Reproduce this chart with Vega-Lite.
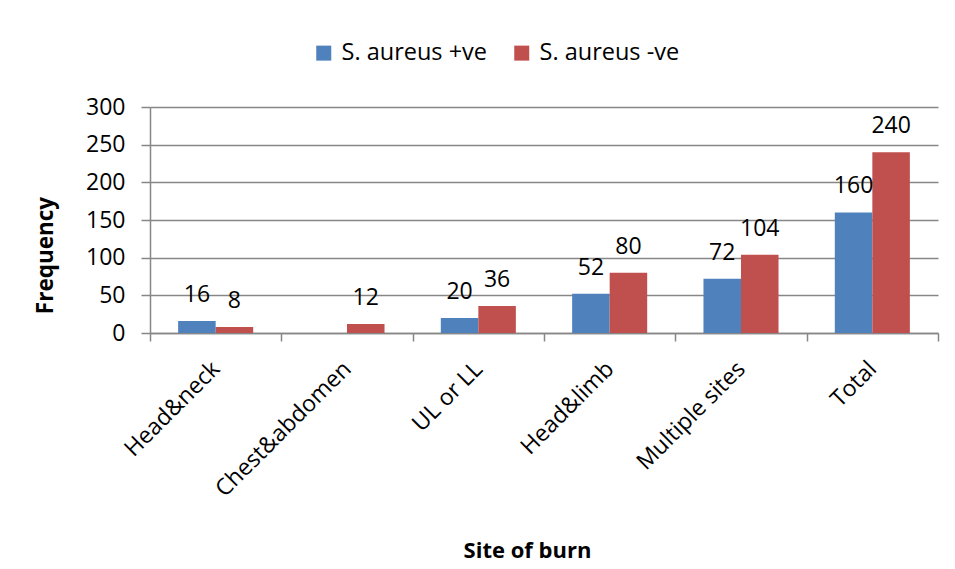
{
  "$schema": "https://vega.github.io/schema/vega-lite/v6.json",
  "autosize": {"type": "none"},
  "width": 788,
  "height": 226,
  "padding": {"left": 150, "top": 107, "right": 17, "bottom": 236},
  "background": "white",
  "config": {
    "font": "Open Sans",
    "view": {"stroke": null},
    "axis": {"labelColor": "#000", "titleColor": "#000", "domainColor": "#878787", "tickColor": "#878787", "gridColor": "#878787", "domainWidth": 1.5, "tickWidth": 1.5, "gridWidth": 1.5}
  },
  "data": {
    "values": [
      {"site": "Head&neck", "status": "S. aureus +ve", "value": 16},
      {"site": "Head&neck", "status": "S. aureus -ve", "value": 8},
      {"site": "Chest&abdomen", "status": "S. aureus -ve", "value": 12},
      {"site": "UL or LL", "status": "S. aureus +ve", "value": 20},
      {"site": "UL or LL", "status": "S. aureus -ve", "value": 36},
      {"site": "Head&limb", "status": "S. aureus +ve", "value": 52},
      {"site": "Head&limb", "status": "S. aureus -ve", "value": 80},
      {"site": "Multiple sites", "status": "S. aureus +ve", "value": 72},
      {"site": "Multiple sites", "status": "S. aureus -ve", "value": 104},
      {"site": "Total", "status": "S. aureus +ve", "value": 160},
      {"site": "Total", "status": "S. aureus -ve", "value": 240}
    ]
  },
  "encoding": {
    "x": {
      "field": "site", "type": "nominal",
      "sort": ["Head&neck", "Chest&abdomen", "UL or LL", "Head&limb", "Multiple sites", "Total"],
      "scale": {"paddingInner": 0, "paddingOuter": 0},
      "axis": {
        "title": "Site of burn", "titleFontSize": 22, "titleFontWeight": "bold",
        "titleX": 377, "titleY": 224, "titleBaseline": "alphabetic", "titleAlign": "center",
        "labelAngle": -45, "labelAlign": "right", "labelBaseline": "middle",
        "labelFontSize": 23, "labelPadding": 24, "tickSize": 8, "tickBand": "extent", "labelOverlap": false, "labelLimit": 400
      }
    },
    "xOffset": {
      "field": "status", "type": "nominal",
      "sort": ["S. aureus +ve", "S. aureus -ve"],
      "scale": {"paddingInner": 0, "paddingOuter": 0.75}
    },
    "y": {
      "field": "value", "type": "quantitative",
      "scale": {"domain": [0, 300]},
      "axis": {
        "title": "Frequency", "titleFontSize": 22.5, "titleFontWeight": "bold",
        "titleX": -105, "titleY": 148, "titleAngle": -90, "titleBaseline": "middle", "titleAlign": "center",
        "values": [0, 50, 100, 150, 200, 250, 300],
        "labelFontSize": 23, "labelPadding": 16, "tickSize": 9, "grid": true, "labelOverlap": false
      }
    }
  },
  "layer": [
    {
      "mark": {"type": "bar"},
      "encoding": {
        "color": {
          "field": "status", "type": "nominal",
          "sort": ["S. aureus +ve", "S. aureus -ve"],
          "scale": {"range": ["#4F81BD", "#C0504D"]},
          "legend": {
            "title": null, "orient": "none", "direction": "horizontal",
            "legendX": 162, "legendY": -66, "padding": 0,
            "symbolType": "square", "symbolSize": 225, "symbolStrokeWidth": 0,
            "labelFontSize": 23.5, "labelColor": "#000", "labelOffset": 6, "columnPadding": 22, "labelLimit": 300
          }
        }
      }
    },
    {
      "mark": {"type": "text", "fontSize": 23, "color": "#000", "baseline": "alphabetic", "dy": -19},
      "encoding": {"text": {"field": "value", "type": "quantitative"}}
    }
  ]
}
